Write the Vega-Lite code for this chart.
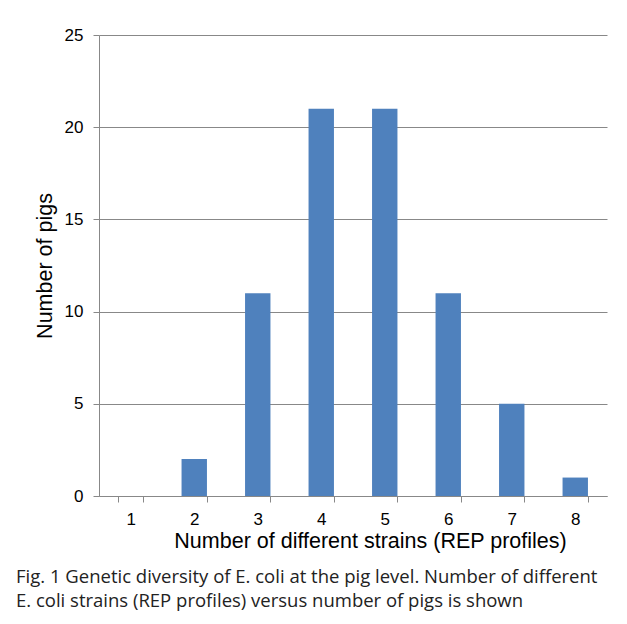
{
  "$schema": "https://vega.github.io/schema/vega-lite/v6.json",
  "width": 508,
  "height": 461,
  "autosize": {"type": "none"},
  "padding": {"left": 99, "top": 35, "right": 20, "bottom": 128},
  "background": "white",
  "data": {"values": [
    {"strains": "1", "pigs": 0},
    {"strains": "2", "pigs": 2},
    {"strains": "3", "pigs": 11},
    {"strains": "4", "pigs": 21},
    {"strains": "5", "pigs": 21},
    {"strains": "6", "pigs": 11},
    {"strains": "7", "pigs": 5},
    {"strains": "8", "pigs": 1}
  ]},
  "title": {
    "text": ["Fig. 1 Genetic diversity of E. coli at the pig level. Number of different", "E. coli strains (REP profiles) versus number of pigs is shown"],
    "orient": "bottom",
    "anchor": "start",
    "frame": "group",
    "dx": -83,
    "offset": 16,
    "font": "Open Sans",
    "fontSize": 18.5,
    "fontWeight": "normal",
    "lineHeight": 24,
    "color": "#222222"
  },
  "mark": {"type": "bar", "color": "#4F81BD"},
  "encoding": {
    "x": {
      "field": "strains",
      "type": "ordinal",
      "scale": {"paddingInner": 0.6, "paddingOuter": 0.3},
      "axis": {
        "title": "Number of different strains (REP profiles)",
        "titleFont": "Liberation Sans",
        "titleFontSize": 21.5,
        "titleFontWeight": "normal",
        "titleColor": "#000000",
        "titlePadding": 3,
        "titleX": 271,
        "labelAngle": 0,
        "labelFont": "Liberation Sans",
        "labelFontSize": 17,
        "labelColor": "#000000",
        "labelPadding": 9,
        "tickBand": "extent",
        "tickSize": 6,
        "tickColor": "#888888",
        "domainColor": "#888888",
        "grid": false
      }
    },
    "y": {
      "field": "pigs",
      "type": "quantitative",
      "scale": {"domain": [0, 25]},
      "axis": {
        "title": "Number of pigs",
        "titleFont": "Liberation Sans",
        "titleFontSize": 21.5,
        "titleFontWeight": "normal",
        "titleColor": "#000000",
        "titlePadding": 8,
        "values": [0, 5, 10, 15, 20, 25],
        "labelFont": "Liberation Sans",
        "labelFontSize": 17,
        "labelColor": "#000000",
        "labelPadding": 10,
        "tickSize": 6,
        "tickColor": "#888888",
        "domainColor": "#888888",
        "gridColor": "#888888",
        "gridWidth": 1
      }
    }
  },
  "config": {"view": {"stroke": null}}
}
